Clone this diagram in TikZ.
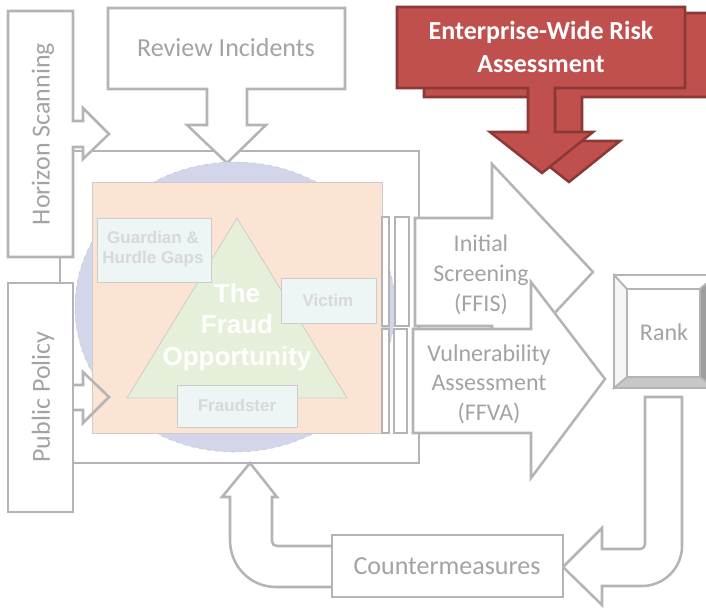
\documentclass[tikz,border=0pt]{standalone}
\usepackage{fontspec}
\setmainfont{Carlito}
\newfontfamily\arialfont{Liberation Sans}
\definecolor{linegray}{RGB}{180,180,183}
\definecolor{textgray}{RGB}{163,163,163}
\definecolor{palegray}{RGB}{216,216,216}
\definecolor{lavender}{RGB}{211,214,234}
\definecolor{peach}{RGB}{252,228,212}
\definecolor{palegreen}{RGB}{230,239,218}
\definecolor{paleteal}{RGB}{237,246,245}
\definecolor{riskred}{RGB}{192,80,77}
\definecolor{riskdark}{RGB}{140,56,54}

\begin{document}
\begin{tikzpicture}[x=0.75pt,y=0.75pt,yscale=-1,xscale=1,
  gbox/.style={draw=linegray,line width=1.9pt,fill=white},
  thin/.style={draw=black!20,line width=0.6pt},
  lbl/.style={text=textgray,align=center,font=\fontsize{19.5}{22.5}\selectfont},
  sml/.style={text=palegray,align=center,font=\arialfont\bfseries\fontsize{12.75}{15}\selectfont},
  redbox/.style={draw=riskdark,line width=1.9pt,fill=riskred}]

\useasboundingbox (0,0) rectangle (706,608);

% frame round the fraud opportunity
\draw[gbox] (60,151) rectangle (419,463);

\draw[gbox] (8,11) -- (73,11) -- (73,121) -- (83,121) -- (83,108) -- (109,134) -- (83,159) -- (83,147) -- (73,147) -- (73,257) -- (8,257) -- cycle;
\draw[gbox] (108,8) -- (345,8) -- (345,89) -- (247,89) -- (247,125) -- (266,125) -- (227,163) -- (187,125) -- (207,125) -- (207,89) -- (108,89) -- cycle;
\draw[gbox] (8,283) -- (73,283) -- (73,512) -- (8,512) -- cycle;

\fill[lavender] (235,307) ellipse [x radius=160,y radius=145];
\draw[lavender!80!gray,line width=0.4pt,dashed] (235,307) ellipse [x radius=160,y radius=145];
\draw[thin,fill=peach] (92,182) rectangle (382,433);
\draw[thin,fill=palegreen] (237,218) -- (347,398) -- (127,398) -- cycle;

\draw[thin,fill=paleteal] (97,218) rectangle (211,282);
\draw[thin,fill=paleteal] (281,278) rectangle (376,323);
\draw[thin,fill=paleteal] (177,385) rectangle (297,427);

\node[sml] (guard) at (153,249) {Guardian \&\\Hurdle Gaps};
\node[sml] (victim) at (328,300) {Victim};
\node[sml] (fraudster) at (237,405) {Fraudster};
\node[text=white,align=center,font=\arialfont\bfseries\fontsize{19.5}{23.6}\selectfont] (fraudopp) at (237,327) {The\\Fraud\\Opportunity};

\draw[linegray,line width=1.9pt,line join=miter] (73,385) -- (83,385) -- (83,372) -- (109,397) -- (83,423) -- (83,410) -- (73,410);

% strips and assessment arrows
\draw[gbox,line width=1.5pt] (382,217) rectangle (389,326);
\draw[gbox,line width=1.5pt] (395,217) rectangle (409,326);
\draw[gbox,line width=1.5pt] (382,329) rectangle (389,433);
\draw[gbox,line width=1.5pt] (394,329) rectangle (407,433);

\draw[gbox] (415,218) -- (492,218) -- (492,164) -- (593,272) -- (492,380) -- (492,326) -- (415,326) -- cycle;
\draw[gbox] (413,329) -- (531,329) -- (531,282) -- (605,379) -- (531,478) -- (531,433) -- (413,433) -- cycle;

% rank button
\draw[gbox] (614,275) rectangle (716,388);
\draw[linegray,line width=1.2pt,fill=black!4] (614,275) -- (627,289) -- (627,377) -- (614,388) -- cycle;
\draw[linegray,line width=1.2pt,fill=black!22] (614,388) -- (627,377) -- (700,377) -- (716,388) -- cycle;
\draw[linegray,line width=1.2pt,fill=black!38] (700,289) -- (716,275) -- (716,388) -- (700,377) -- cycle;
\draw[linegray,line width=1.2pt] (614,275) -- (627,289) -- (700,289) -- (716,275);
\draw[linegray,line width=1.9pt] (627,289) rectangle (700,377);
\draw[linegray,line width=1.9pt] (614,275) -- (716,275) (614,275) -- (614,388) -- (716,388);

% loop back through countermeasures
\draw[gbox] (645,397) -- (682,397) -- (682,546) .. controls (682,568) and (664,586) .. (642,586) -- (602,586) -- (602,605) -- (563,567) -- (602,528) -- (602,549) -- (639,549) .. controls (643,549) and (645,547) .. (645,543) -- cycle;
\draw[gbox] (332,546) -- (277,546) .. controls (274,546) and (272,544) .. (272,541) -- (272,497) -- (277,497) -- (250,463) -- (222,497) -- (230,497) -- (230,540) .. controls (230,566) and (250,587) .. (276,587) -- (332,587);
\draw[gbox] (332,535) rectangle (563,597);

% enterprise-wide risk assessment
\draw[redbox] (424,13) -- (725,13) -- (725,97) -- (582,97) -- (582,141) -- (620,141) -- (569,182) -- (517,141) -- (555,141) -- (555,97) -- (424,97) -- cycle;
\draw[redbox] (397,7) -- (685,7) -- (685,88) -- (555,88) -- (555,132) -- (593,132) -- (542,173) -- (490,132) -- (528,132) -- (528,88) -- (397,88) -- cycle;

\node[text=white,align=center,font=\bfseries\fontsize{19.5}{24.75}\selectfont] (ewra) at (541,47) {Enterprise-Wide Risk\\Assessment};

\node[lbl,rotate=90] (hscan) at (43,134) {Horizon Scanning};
\node[lbl,rotate=90] (ppolicy) at (43,397) {Public Policy};
\node[lbl] (review) at (226,48) {Review Incidents};
\node[lbl] (counter) at (447,566) {Countermeasures};
\node[lbl,font=\fontsize{18}{22.5}\selectfont] (screen) at (481,275) {Initial\\Screening\\(FFIS)};
\node[lbl,font=\fontsize{18}{22}\selectfont] (vuln) at (489,384) {Vulnerability\\Assessment\\(FFVA)};
\node[lbl,font=\fontsize{18}{22}\selectfont] (rank) at (664,332) {Rank};

\end{tikzpicture}
\end{document}
